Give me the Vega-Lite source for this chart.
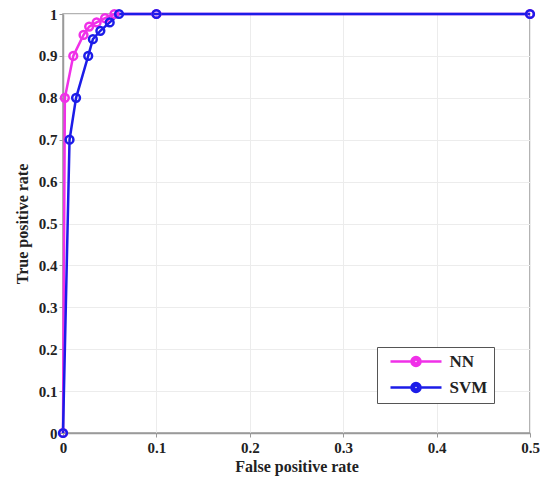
{
  "$schema": "https://vega.github.io/schema/vega-lite/v6.json",
  "width": 467,
  "height": 419,
  "autosize": "none",
  "padding": {"left": 63, "top": 14, "right": 10, "bottom": 50},
  "background": "white",
  "config": {
    "view": {"stroke": "#9a9a9a", "strokeWidth": 1.5},
    "font": "Liberation Serif",
    "axis": {
      "labelFont": "Liberation Serif",
      "labelFontWeight": "bold",
      "labelFontSize": 15,
      "labelColor": "#222",
      "titleFont": "Liberation Serif",
      "titleFontWeight": "bold",
      "titleFontSize": 16,
      "titleColor": "#222",
      "domainColor": "#9a9a9a",
      "domainWidth": 1.5,
      "tickColor": "#9a9a9a",
      "gridColor": "#ececec",
      "gridWidth": 1
    }
  },
  "data": {
    "values": [
      {"fpr": 0.0, "tpr": 0.0, "model": "NN"},
      {"fpr": 0.002, "tpr": 0.8, "model": "NN"},
      {"fpr": 0.011, "tpr": 0.9, "model": "NN"},
      {"fpr": 0.022, "tpr": 0.95, "model": "NN"},
      {"fpr": 0.028, "tpr": 0.97, "model": "NN"},
      {"fpr": 0.036, "tpr": 0.98, "model": "NN"},
      {"fpr": 0.045, "tpr": 0.99, "model": "NN"},
      {"fpr": 0.055, "tpr": 1.0, "model": "NN"},
      {"fpr": 0.1, "tpr": 1.0, "model": "NN"},
      {"fpr": 0.5, "tpr": 1.0, "model": "NN"},
      {"fpr": 0.0, "tpr": 0.0, "model": "SVM"},
      {"fpr": 0.007, "tpr": 0.7, "model": "SVM"},
      {"fpr": 0.014, "tpr": 0.8, "model": "SVM"},
      {"fpr": 0.027, "tpr": 0.9, "model": "SVM"},
      {"fpr": 0.032, "tpr": 0.94, "model": "SVM"},
      {"fpr": 0.04, "tpr": 0.96, "model": "SVM"},
      {"fpr": 0.05, "tpr": 0.98, "model": "SVM"},
      {"fpr": 0.06, "tpr": 1.0, "model": "SVM"},
      {"fpr": 0.1, "tpr": 1.0, "model": "SVM"},
      {"fpr": 0.5, "tpr": 1.0, "model": "SVM"}
    ]
  },
  "encoding": {
    "x": {
      "field": "fpr",
      "type": "quantitative",
      "scale": {"domain": [0, 0.5], "nice": false},
      "axis": {"title": "False positive rate", "values": [0, 0.1, 0.2, 0.3, 0.4, 0.5], "format": "~g", "tickSize": 4, "labelPadding": 3, "titlePadding": 3, "labelFlush": false}
    },
    "y": {
      "field": "tpr",
      "type": "quantitative",
      "scale": {"domain": [0, 1], "nice": false},
      "axis": {"title": "True positive rate", "values": [0, 0.1, 0.2, 0.3, 0.4, 0.5, 0.6, 0.7, 0.8, 0.9, 1], "format": "~g", "tickSize": 4, "labelPadding": 2, "titlePadding": 8, "labelFlush": false}
    },
    "color": {
      "field": "model",
      "type": "nominal",
      "scale": {"domain": ["NN", "SVM"], "range": ["#f030e8", "#1c1ce8"]},
      "legend": {
        "title": null,
        "orient": "none",
        "legendX": 314,
        "legendY": 333,
        "direction": "vertical",
        "fillColor": "white",
        "strokeColor": "#555",
        "padding": 6,
        "rowPadding": 7,
        "labelFont": "Liberation Serif",
        "labelFontWeight": "bold",
        "labelFontSize": 17,
        "labelColor": "#222",
        "symbolType": "M -4.25 0 L -0.75 0 M 0.75 0 L 4.25 0 M -0.75 0 A 0.75 0.75 0 1 0 0.75 0 A 0.75 0.75 0 1 0 -0.75 0 M -0.33 0 A 0.33 0.33 0 1 0 0.33 0 A 0.33 0.33 0 1 0 -0.33 0 M -0.08 0 A 0.08 0.08 0 1 0 0.08 0 A 0.08 0.08 0 1 0 -0.08 0",
        "symbolSize": 144,
        "symbolStrokeWidth": 2.5,
        "symbolFillColor": "transparent",
        "symbolOpacity": 1,
        "symbolOffset": 24.5,
        "labelOffset": 25
      }
    }
  },
  "layer": [
    {"mark": {"type": "line", "strokeWidth": 2.5}},
    {"mark": {"type": "point", "shape": "circle", "filled": false, "opacity": 1, "size": 60, "strokeWidth": 2.5}}
  ]
}
